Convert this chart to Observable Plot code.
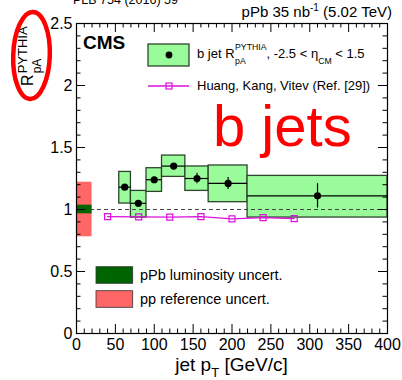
<!DOCTYPE html>
<html><head><meta charset="utf-8">
<script src="https://cdn.jsdelivr.net/npm/d3@7"></script>
<script src="https://cdn.jsdelivr.net/npm/@observablehq/plot@0.6"></script>
<style>body{margin:0;background:#fff} svg{display:block}</style>
</head><body><div id="chart"></div>
<script>
// b-jet RpA data (CMS, pPb 5.02 TeV)
const binLo    = [55, 70, 90, 110, 140, 170, 220];
const binHi    = [70, 90, 110, 140, 170, 220, 400];
const ptCenter = [62, 79.5, 100, 125, 155, 195, 310];
const rpa      = [1.18, 1.05, 1.24, 1.35, 1.25, 1.21, 1.11];
const statErr  = [0.02, 0.02, 0.02, 0.02, 0.043, 0.048, 0.098];
const sysLo    = [1.048, 0.935, 1.142, 1.263, 1.15, 1.059, 0.935];
const sysHi    = [1.303, 1.15, 1.333, 1.435, 1.347, 1.355, 1.271];
// Huang, Kang, Vitev calculation
const thX = [40, 80, 120, 160, 200, 240, 280];
const thY = [0.943, 0.94, 0.938, 0.943, 0.925, 0.935, 0.927];
// normalisation uncertainties (box at low pT edge)
const bandX = [0, 20];
const lumiUnc = 0.035;
const ppRefUnc = 0.22;
// axis ticks
const xMajor = [0, 50, 100, 150, 200, 250, 300, 350, 400];
const yMajor = [0, 0.5, 1, 1.5, 2, 2.5];

const W = 402, H = 380, mL = 76, mR = 15, mT = 23, mB = 47;
const innerW = W - mL - mR, innerH = H - mT - mB;
const xMinor = d3.range(0, 401, 10).filter(v => v % 50 !== 0);
const yMinor = d3.range(0, 26, 1).filter(v => v % 5 !== 0).map(v => v / 10);

const bins = binLo.map((lo, i) => ({lo, hi: binHi[i], x: ptCenter[i], y: rpa[i], e: statErr[i], s1: sysLo[i], s2: sysHi[i]}));
const theory = thX.map((x, i) => ({x, y: thY[i]}));
const bands = [
  {x1: bandX[0], x2: bandX[1], y1: 1 - ppRefUnc, y2: 1 + ppRefUnc, fill: "#ff6666"},
  {x1: bandX[0], x2: bandX[1], y1: 1 - lumiUnc, y2: 1 + lumiUnc, fill: "#006400"}
];

const FONT = "'Liberation Sans', Arial, Helvetica, sans-serif";
const MAG = "#dd11dd";
const tk = {stroke: "black", strokeWidth: 1};

const plot = Plot.plot({
  width: W, height: H, marginLeft: mL, marginRight: mR, marginTop: mT, marginBottom: mB,
  style: {fontFamily: FONT, background: "white", overflow: "visible", color: "black"},
  x: {domain: [0, 400]},
  y: {domain: [0, 2.5]},
  marks: [
    Plot.rect(bins, {x1: "lo", x2: "hi", y1: "s1", y2: "s2", fill: "#99fb99", stroke: "#2e452e", strokeWidth: 1.3}),
    Plot.ruleY([1], {stroke: "#444", strokeDasharray: "4,3", strokeWidth: 1}),
    Plot.rect(bands, {x1: "x1", x2: "x2", y1: "y1", y2: "y2", fill: "fill"}),
    Plot.ruleY(bins, {y: "y", x1: "lo", x2: "hi", stroke: "black", strokeWidth: 1.2}),
    Plot.ruleX(bins, {x: "x", y1: d => d.y - d.e, y2: d => d.y + d.e, stroke: "black", strokeWidth: 1.2}),
    Plot.line(theory, {x: "x", y: "y", stroke: MAG, strokeWidth: 1.3}),
    Plot.dot(theory, {x: "x", y: "y", symbol: "square", r: 3.4, stroke: MAG, fill: "none", strokeWidth: 1.2}),
    Plot.dot(bins, {x: "x", y: "y", r: 3.6, fill: "black"}),
    // inward ticks on all four sides
    Plot.tickX(xMajor, {insetTop: innerH - 9, ...tk}),
    Plot.tickX(xMinor, {insetTop: innerH - 4.5, ...tk}),
    Plot.tickX(xMajor, {insetBottom: innerH - 9, ...tk}),
    Plot.tickX(xMinor, {insetBottom: innerH - 4.5, ...tk}),
    Plot.tickY(yMajor, {insetRight: innerW - 9, ...tk}),
    Plot.tickY(yMinor, {insetRight: innerW - 4.5, ...tk}),
    Plot.tickY(yMajor, {insetLeft: innerW - 9, ...tk}),
    Plot.tickY(yMinor, {insetLeft: innerW - 4.5, ...tk}),
    Plot.frame({stroke: "black", strokeWidth: 1.2}),
    Plot.axisX(xMajor, {tickSize: 0, tickPadding: 5, fontSize: 16, label: null, tickFormat: d => String(d)}),
    Plot.axisY(yMajor, {tickSize: 0, tickPadding: 4, fontSize: 16, label: null, tickFormat: d => String(d)})
  ]
});
document.getElementById("chart").appendChild(plot);

// ---- annotations ----
const svg = d3.select(plot);
const g = svg.append("g").attr("font-family", FONT).attr("fill", "black").attr("text-anchor", "start");

function txt(x, y, s, size, extra = {}) {
  const t = g.append("text").attr("x", x).attr("y", y).attr("font-size", size).attr("text-anchor", "start").text(s);
  for (const k in extra) t.attr(k, extra[k]);
  return t;
}

// journal reference (cut at top)
txt(73, 4, "PLB 754 (2016) 59", 12.5);

// top right
{
  const t = g.append("text").attr("x", 392).attr("y", 17).attr("font-size", 15).attr("text-anchor", "end");
  t.append("tspan").text("pPb 35 nb");
  t.append("tspan").attr("font-size", 10).attr("dy", -6).text("-1");
  t.append("tspan").attr("dy", 6).text(" (5.02 TeV)");
}

// CMS
txt(83, 48.5, "CMS", 19, {"font-weight": "bold"});

// legend 1: data
g.append("rect").attr("x", 148).attr("y", 44).attr("width", 41).attr("height", 22)
  .attr("fill", "#99fb99").attr("stroke", "#2e452e").attr("stroke-width", 1.3);
g.append("circle").attr("cx", 169).attr("cy", 55).attr("r", 3.4).attr("fill", "black");
{
  const a = txt(197, 57.5, "b jet R", 13);
  const xa = 197 + a.node().getComputedTextLength() + 0.5;
  const sup = txt(xa, 50, "PYTHIA", 8.7);
  txt(xa, 64, "pA", 8.7);
  const xb = xa + sup.node().getComputedTextLength();
  const b = txt(xb, 57.5, ", -2.5 < \u03b7", 13);
  const xc = xb + b.node().getComputedTextLength();
  const c = txt(xc, 64, "CM", 8.7);
  txt(xc + c.node().getComputedTextLength(), 57.5, " < 1.5", 13);
}

// legend 2: theory
g.append("line").attr("x1", 148).attr("x2", 189).attr("y1", 86).attr("y2", 86).attr("stroke", MAG).attr("stroke-width", 1.3);
g.append("rect").attr("x", 166).attr("y", 83).attr("width", 6).attr("height", 6).attr("fill", "none").attr("stroke", MAG).attr("stroke-width", 1.2);
txt(197, 90, "Huang, Kang, Vitev (Ref. [29])", 13);

// big label
txt(213, 145.5, "b jets", 58, {fill: "#ff0000"});

// bottom legend
g.append("rect").attr("x", 96).attr("y", 266.7).attr("width", 36.7).attr("height", 16.6).attr("fill", "#006400").attr("stroke", "#333").attr("stroke-width", 0.8);
txt(140, 280, "pPb luminosity uncert.", 14.5);
g.append("rect").attr("x", 96).attr("y", 290.7).attr("width", 36.7).attr("height", 16.6).attr("fill", "#ff6666").attr("stroke", "#333").attr("stroke-width", 0.8);
txt(140, 304, "pp reference uncert.", 14.5);

// x-axis title
{
  const t = g.append("text").attr("x", 231.5).attr("y", 370.5).attr("font-size", 19).attr("text-anchor", "middle");
  t.append("tspan").text("jet p");
  t.append("tspan").attr("font-size", 13).attr("dy", 6).text("T");
  t.append("tspan").attr("dy", -6).text(" [GeV/c]");
}

// y-axis title, rotated
{
  const yg = g.append("g").attr("transform", "translate(33.3,86) rotate(-90)");
  yg.append("text").attr("x", 0).attr("y", 0).attr("font-size", 16).attr("text-anchor", "start").text("R");
  yg.append("text").attr("x", 12.7).attr("y", 8).attr("font-size", 12).attr("text-anchor", "start").text("pA");
  yg.append("text").attr("x", 12.7).attr("y", -6.6).attr("font-size", 13).attr("text-anchor", "start").text("PYTHIA");
}
// red ellipse highlight around y title
g.append("ellipse").attr("cx", 31.5).attr("cy", 55.5).attr("rx", 18.3).attr("ry", 43.5)
  .attr("fill", "none").attr("stroke", "#ff0000").attr("stroke-width", 4.5)
  .attr("transform", "rotate(2,31.5,55.5)");
</script>
</body></html>
